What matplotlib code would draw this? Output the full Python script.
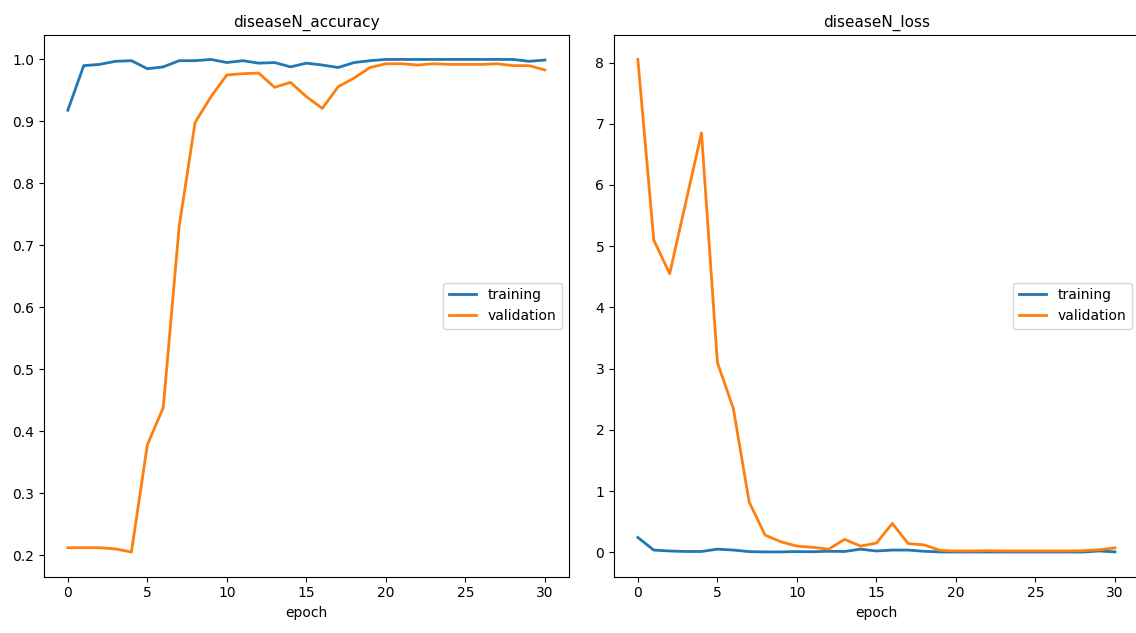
import numpy as np
import matplotlib
matplotlib.use('Agg')
import matplotlib.pyplot as plt

epochs = list(range(31))

acc_train = [0.918, 0.990, 0.992, 0.997, 0.998, 0.985, 0.988, 0.998, 0.998, 1.000,
             0.995, 0.998, 0.994, 0.995, 0.988, 0.994, 0.991, 0.987, 0.995, 0.998,
             1.000, 1.000, 1.000, 1.000, 1.000, 1.000, 1.000, 1.000, 1.000, 0.997, 0.999]
acc_val = [0.212, 0.212, 0.212, 0.210, 0.205, 0.378, 0.438, 0.730, 0.898, 0.940,
           0.975, 0.977, 0.978, 0.955, 0.963, 0.940, 0.921, 0.956, 0.970, 0.987,
           0.993, 0.993, 0.991, 0.993, 0.992, 0.992, 0.992, 0.993, 0.990, 0.990, 0.983]

loss_train = [0.24, 0.035, 0.02, 0.012, 0.012, 0.05, 0.035, 0.01, 0.005, 0.005,
              0.01, 0.008, 0.015, 0.012, 0.05, 0.02, 0.035, 0.035, 0.015, 0.005,
              0.003, 0.003, 0.003, 0.003, 0.003, 0.003, 0.003, 0.003, 0.003, 0.02, 0.005]
loss_val = [8.05, 5.1, 4.55, 5.7, 6.85, 3.1, 2.35, 0.82, 0.28, 0.17,
            0.10, 0.08, 0.05, 0.21, 0.10, 0.15, 0.47, 0.14, 0.12, 0.03,
            0.02, 0.02, 0.025, 0.02, 0.02, 0.02, 0.02, 0.02, 0.025, 0.04, 0.07]

fig = plt.figure(figsize=(11.36, 6.33), dpi=100)
# right panel runs slightly past the figure edge, as in the cropped original
ax1 = fig.add_axes([0.0387, 0.089, 0.462, 0.856])
ax2 = fig.add_axes([0.5405, 0.089, 0.462, 0.856])

for ax, tr, va, title in [(ax1, acc_train, acc_val, 'diseaseN_accuracy'),
                          (ax2, loss_train, loss_val, 'diseaseN_loss')]:
    ax.plot(epochs, tr, color='#1f77b4', lw=2, label='training')
    ax.plot(epochs, va, color='#ff7f0e', lw=2, label='validation')
    ax.set_title(title, fontsize=11)
    ax.set_xlabel('epoch', fontsize=10)
    ax.tick_params(labelsize=10)
    ax.set_xticks([0, 5, 10, 15, 20, 25, 30])
    ax.legend(loc='center right', fontsize=10)

fig.savefig('out.png', dpi=100)
